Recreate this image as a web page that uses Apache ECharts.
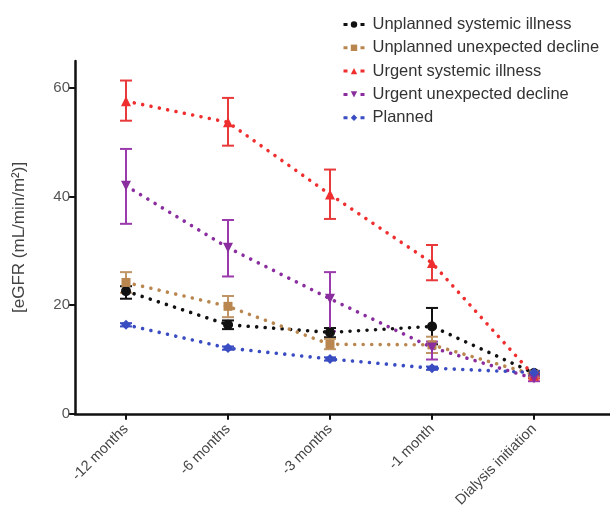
<!DOCTYPE html>
<html>
<head>
<meta charset="utf-8">
<script src="https://cdn.jsdelivr.net/npm/echarts@6/dist/echarts.min.js"></script>
<style>html,body{margin:0;padding:0;background:#fff;}#c{width:610px;height:510px;}</style>
</head>
<body>
<div id="c"></div>
<script>
var categories = ['-12 months', '-6 months', '-3 months', '-1 month', 'Dialysis initiation'];
var yTicks = [0, 20, 40, 60];

var seriesNames = ['Unplanned systemic illness', 'Unplanned unexpected decline', 'Urgent systemic illness', 'Urgent unexpected decline', 'Planned'];

var unplannedSystemic = [22.6, 16.4, 15.0, 16.1, 7.5];
var unplannedSystemicLow = [21.2, 15.6, 14.1, 12.8, 7.1];
var unplannedSystemicHigh = [23.5, 17.2, 15.8, 19.5, 7.9];

var unplannedDecline = [24.2, 19.8, 12.8, 12.7, 7.2];
var unplannedDeclineLow = [22.3, 17.8, 11.9, 11.2, 6.8];
var unplannedDeclineHigh = [26.1, 21.7, 13.8, 14.2, 7.6];

var urgentSystemic = [57.6, 53.7, 40.4, 27.8, 7.0];
var urgentSystemicLow = [54.0, 49.4, 35.9, 24.6, 6.5];
var urgentSystemicHigh = [61.4, 58.2, 45.0, 31.1, 7.5];

var urgentDecline = [42.0, 30.6, 21.2, 12.2, 6.5];
var urgentDeclineLow = [35.0, 25.3, 15.2, 10.0, 6.0];
var urgentDeclineHigh = [48.8, 35.7, 26.1, 13.3, 7.0];

var planned = [16.4, 12.1, 10.1, 8.4, 7.6];
var plannedLow = [16.1, 11.8, 9.8, 8.1, 7.3];
var plannedHigh = [16.7, 12.4, 10.4, 8.7, 7.9];

var colors = ['#111111', '#b8864e', '#ef2f2f', '#8a2d9e', '#3a4cc2'];
var barColors = ['#111111', '#c09565', '#e83a3a', '#9a3aac', '#3a4cc2'];
var symbols = ['circle', 'rect', 'triangle', 'triangle', 'diamond'];
var symbolRot = [0, 0, 0, 180, 0];

var means = [unplannedSystemic, unplannedDecline, urgentSystemic, urgentDecline, planned];
var lows = [unplannedSystemicLow, unplannedDeclineLow, urgentSystemicLow, urgentDeclineLow, plannedLow];
var highs = [unplannedSystemicHigh, unplannedDeclineHigh, urgentSystemicHigh, urgentDeclineHigh, plannedHigh];

var FONT = 'Liberation Sans, Arial, sans-serif';
var chart = echarts.init(document.getElementById('c'));
var series = [];
for (var s = 0; s < 5; s++) {
  (function (s) {
    var d = [];
    for (var i = 0; i < categories.length; i++) d.push([i, lows[s][i], highs[s][i]]);
    series.push({
      type: 'custom',
      name: 'err' + s,
      data: d,
      z: 2,
      silent: true,
      renderItem: function (params, api) {
        var x = api.value(0);
        var lo = api.coord([x, api.value(1)]);
        var hi = api.coord([x, api.value(2)]);
        var w = 6;
        var st = { stroke: barColors[s], lineWidth: 2 };
        return {
          type: 'group',
          children: [
            { type: 'line', shape: { x1: lo[0], y1: lo[1], x2: hi[0], y2: hi[1] }, style: st },
            { type: 'line', shape: { x1: lo[0] - w, y1: lo[1], x2: lo[0] + w, y2: lo[1] }, style: st },
            { type: 'line', shape: { x1: hi[0] - w, y1: hi[1], x2: hi[0] + w, y2: hi[1] }, style: st }
          ]
        };
      }
    });
  })(s);
}
for (var s2 = 0; s2 < 5; s2++) {
  var dd = [];
  for (var j = 0; j < categories.length; j++) dd.push([j, means[s2][j]]);
  series.push({
    type: 'line',
    name: seriesNames[s2],
    data: dd,
    z: 3,
    symbol: symbols[s2],
    symbolRotate: symbolRot[s2],
    symbolSize: s2 === 1 ? 9 : 10,
    showAllSymbol: true,
    lineStyle: { type: [0.01, 8.5], width: 3.6, cap: 'round', color: colors[s2] },
    itemStyle: { color: colors[s2] },
    animation: false
  });
}

chart.setOption({
  animation: false,
  grid: { left: 75, right: 0, top: 61, bottom: 95 },
  legend: {
    data: seriesNames,
    orient: 'vertical',
    left: 337,
    top: 11,
    itemGap: 6.3,
    itemWidth: 21,
    itemHeight: 8,
    lineStyle: { type: [4, 13], width: 3, cap: 'butt' },
    textStyle: { fontFamily: FONT, fontSize: 16.5, color: '#333', padding: [0, 0, 0, 3] }
  },
  xAxis: {
    type: 'value',
    min: -0.5,
    max: 4.745,
    splitLine: { show: false },
    axisLine: { show: true, onZero: false, lineStyle: { color: '#111', width: 2.5 } },
    axisTick: { show: true, length: 6, lineStyle: { color: '#111', width: 2 }, customValues: [0, 1, 2, 3, 4] },
    axisLabel: {
      customValues: [0, 1, 2, 3, 4],
      rotate: 45,
      margin: 13,
      fontFamily: FONT,
      fontSize: 14.5,
      color: '#444',
      formatter: function (v) { return categories[Math.round(v)]; }
    }
  },
  yAxis: {
    type: 'value',
    min: 0,
    max: 65,
    interval: 20,
    name: '[eGFR (mL/min/m²)]',
    nameLocation: 'middle',
    nameGap: 47,
    nameRotate: 90,
    nameTextStyle: { fontFamily: FONT, fontSize: 17, color: '#444' },
    splitLine: { show: false },
    axisLine: { show: true, onZero: false, lineStyle: { color: '#111', width: 2.5 } },
    axisTick: { show: true, length: 6, lineStyle: { color: '#111', width: 2 }, customValues: yTicks },
    axisLabel: {
      customValues: yTicks,
      margin: 5,
      fontFamily: FONT,
      fontSize: 15,
      color: '#555'
    }
  },
  series: series
});
</script>
</body>
</html>
